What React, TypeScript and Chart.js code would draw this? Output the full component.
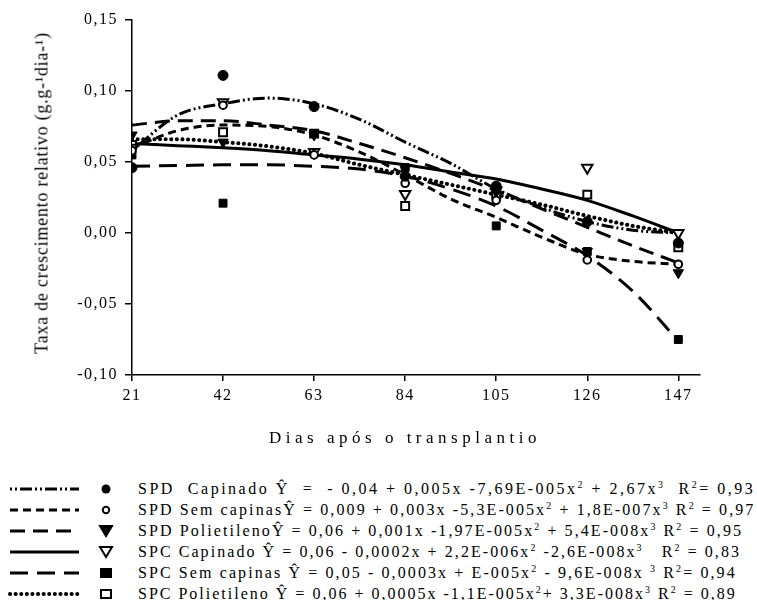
import React, { useEffect, useRef } from "react";
import { Chart, registerables } from "chart.js";
Chart.register(...registerables);

// ---- data ----
const obsDays = [21, 42, 63, 84, 105, 126, 147];
const fitDays = [21, 31.5, 42, 52.5, 63, 73.5, 84, 94.5, 105, 115.5, 126, 136.5, 147];
const xTicks = [21, 42, 63, 84, 105, 126, 147];
const yTicks = [-0.1, -0.05, 0, 0.05, 0.1, 0.15];
const yTickLabels = ["-0,10", "-0,05", "0,00", "0,05", "0,10", "0,15"];

const obsSpdCapinado = [0.046, 0.111, 0.089, 0.04, 0.033, 0.008, -0.007];
const obsSpdSemCapinas = [0.058, 0.09, 0.055, 0.035, 0.023, -0.019, -0.022];
const obsSpdPolietileno = [0.069, 0.064, 0.069, 0.045, 0.029, -0.013, -0.028];
const obsSpcCapinado = [0.06, 0.092, 0.057, 0.0275, 0.03, 0.046, 0.0];
const obsSpcSemCapinas = [0.055, 0.021, 0.07, 0.046, 0.005, -0.013, -0.075];
const obsSpcPolietileno = [0.062, 0.071, 0.07, 0.019, 0.027, 0.027, -0.01];

const fitSpdCapinado = [0.058, 0.083, 0.091, 0.095, 0.091, 0.08, 0.064, 0.049, 0.031, 0.018, 0.008, 0.002, 0.0];
const fitSpdSemCapinas = [0.06, 0.072, 0.076, 0.075, 0.069, 0.057, 0.041, 0.024, 0.011, -0.003, -0.015, -0.02, -0.022];
const fitSpdPolietileno = [0.076, 0.079, 0.079, 0.076, 0.072, 0.063, 0.053, 0.042, 0.03, 0.017, 0.004, -0.009, -0.021];
const fitSpcCapinado = [0.063, 0.0615, 0.06, 0.058, 0.055, 0.052, 0.048, 0.043, 0.038, 0.031, 0.023, 0.012, 0.0];
const fitSpcSemCapinas = [0.047, 0.0475, 0.048, 0.048, 0.047, 0.045, 0.04, 0.031, 0.019, 0.002, -0.016, -0.041, -0.076];
const fitSpcPolietileno = [0.066, 0.066, 0.064, 0.061, 0.056, 0.048, 0.041, 0.034, 0.027, 0.02, 0.012, 0.005, 0.0];

const seriesNames = ["SPD Capinado", "SPD Sem capinas", "SPD Polietileno", "SPC Capinado", "SPC Sem capinas", "SPC Polietileno"];
const legendTexts = [
  "SPD  Capinado Ŷ  =  - 0,04 + 0,005x -7,69E-005x² + 2,67x³  R²= 0,93",
  "SPD Sem capinasŶ = 0,009 + 0,003x -5,3E-005x² + 1,8E-007x³ R² = 0,97",
  "SPD PolietilenoŶ = 0,06 + 0,001x -1,97E-005x² + 5,4E-008x³ R² = 0,95",
  "SPC Capinado Ŷ = 0,06 - 0,0002x + 2,2E-006x² -2,6E-008x³   R² = 0,83",
  "SPC Sem capinas Ŷ = 0,05 - 0,0003x + E-005x² - 9,6E-008x ³ R²= 0,94",
  "SPC Polietileno Ŷ = 0,06 + 0,0005x -1,1E-005x²+ 3,3E-008x³ R² = 0,89",
];

const obsAll = [obsSpdCapinado, obsSpdSemCapinas, obsSpdPolietileno, obsSpcCapinado, obsSpcSemCapinas, obsSpcPolietileno];
const fitAll = [fitSpdCapinado, fitSpdSemCapinas, fitSpdPolietileno, fitSpcCapinado, fitSpcSemCapinas, fitSpcPolietileno];

// styles
const lineDash: number[][] = [[2, 3, 2, 3, 12, 3], [8, 5], [15, 8], [], [18, 9], [0.1, 5.5]];
const lineCap = ["butt", "butt", "butt", "butt", "butt", "round"];
const lineW = [3, 3, 3, 3, 3, 4];
const legendSpacing = [2.5, 2.1, 2.08, 2.06, 2.1, 2.0];
const markers = [
  { style: "circle", r: 5, fill: "#000", rot: 0 },
  { style: "circle", r: 3.8, fill: "#fff", rot: 0 },
  { style: "triangle", r: 6, fill: "#000", rot: 180 },
  { style: "triangle", r: 6, fill: "#fff", rot: 180 },
  { style: "rect", r: 5.6, fill: "#000", rot: 0 },
  { style: "rect", r: 5.6, fill: "#fff", rot: 0 },
];

const FONT = "'Liberation Serif', 'DejaVu Serif', 'Times New Roman', serif";

const spacingPlugin = {
  id: "spacing",
  beforeLayout(chart: any) {
    chart.ctx.letterSpacing = "1.5px";
  },
  beforeDraw(chart: any) {
    chart.ctx.letterSpacing = "1.5px";
  },
};

function LegendText({ text }: { text: string }) {
  const parts: React.ReactNode[] = [];
  let buf = "";
  let k = 0;
  for (const ch of text) {
    if (ch === "²" || ch === "³") {
      if (buf) parts.push(<span key={k++}>{buf}</span>);
      buf = "";
      parts.push(
        <sup key={k++} style={{ fontSize: "10px", verticalAlign: "6px", lineHeight: 0 }}>
          {ch === "²" ? "2" : "3"}
        </sup>
      );
    } else buf += ch;
  }
  if (buf) parts.push(<span key={k++}>{buf}</span>);
  return <>{parts}</>;
}

function LegendIcon({ i }: { i: number }) {
  const dash = lineDash[i].length ? lineDash[i].join(",") : undefined;
  const m = markers[i];
  const cx = 106;
  const cy = 10;
  let marker: React.ReactNode = null;
  if (m.style === "circle") {
    marker = <circle cx={cx} cy={cy} r={m.fill === "#000" ? 4.5 : 3.2} fill={m.fill} stroke="#000" strokeWidth={m.fill === "#000" ? 0 : 2} />;
  } else if (m.style === "triangle") {
    marker = <polygon points={`${cx - 6},${cy - 5} ${cx + 6},${cy - 5} ${cx},${cy + 5}`} fill={m.fill} stroke="#000" strokeWidth={2} strokeLinejoin="miter" />;
  } else {
    marker = <rect x={cx - 5} y={cy - 4} width={10} height={8} fill={m.fill} stroke="#000" strokeWidth={2} />;
  }
  return (
    <svg width={130} height={20} style={{ position: "absolute", left: 0, top: 0 }}>
      <line x1={10} y1={cy} x2={79} y2={cy} stroke="#000" strokeWidth={lineW[i]} strokeDasharray={dash} strokeLinecap={lineCap[i] as any} />
      {marker}
    </svg>
  );
}

export default function App() {
  const ref = useRef<HTMLCanvasElement | null>(null);
  useEffect(() => {
    if (!ref.current) return;
    const markerSets = obsAll.map((vals, i) => ({
      label: seriesNames[i],
      data: obsDays.map((d, j) => ({ x: d, y: vals[j] })),
      showLine: false,
      pointStyle: markers[i].style,
      pointRotation: markers[i].rot,
      pointRadius: markers[i].r,
      pointBackgroundColor: markers[i].fill,
      pointBorderColor: "#000",
      pointBorderWidth: markers[i].fill === "#000" ? 1 : 2,
      order: 0,
    }));
    const lineSets = fitAll.map((vals, i) => ({
      label: seriesNames[i] + " ajuste",
      data: fitDays.map((d, j) => ({ x: d, y: vals[j] })),
      showLine: true,
      pointRadius: 0,
      borderColor: "#000",
      borderWidth: lineW[i],
      borderDash: lineDash[i],
      borderCapStyle: lineCap[i],
      cubicInterpolationMode: "monotone",
      fill: false,
      order: 1,
    }));
    const chart = new Chart(ref.current, {
      type: "scatter",
      data: { datasets: [...markerSets, ...lineSets] as any },
      options: {
        animation: false,
        responsive: false,
        devicePixelRatio: 1,
        layout: { padding: { top: 20, right: 57, bottom: 0, left: 0 } },
        plugins: { legend: { display: false }, tooltip: { enabled: false } },
        scales: {
          x: {
            type: "linear",
            min: 21,
            max: 152,
            afterBuildTicks: (s: any) => {
              s.ticks = xTicks.map((v) => ({ value: v }));
            },
            afterFit: (s: any) => {
              s.height = 85;
            },
            ticks: { color: "#000", font: { family: FONT, size: 16 }, padding: 5, maxRotation: 0, autoSkip: false },
            grid: { drawOnChartArea: false, drawTicks: true, tickLength: 6, color: "#000", lineWidth: 1.5 },
            border: { display: true, color: "#000", width: 1.5 },
          },
          y: {
            type: "linear",
            min: -0.1,
            max: 0.15,
            afterBuildTicks: (s: any) => {
              s.ticks = yTicks.map((v) => ({ value: v }));
            },
            afterFit: (s: any) => {
              s.width = 132;
            },
            ticks: {
              color: "#000",
              font: { family: FONT, size: 16 },
              padding: 7,
              autoSkip: false,
              callback: (_v: any, idx: number) => yTickLabels[idx],
            },
            grid: { drawOnChartArea: false, drawTicks: true, tickLength: 7, color: "#000", lineWidth: 1.5 },
            border: { display: true, color: "#000", width: 1.5 },
          },
        },
      } as any,
      plugins: [spacingPlugin],
    });
    return () => chart.destroy();
  }, []);

  const rowCenters = [489, 510, 531, 552, 573, 594];
  return (
    <div style={{ position: "absolute", left: 0, top: 0, width: 757, height: 600, overflow: "hidden", background: "#fff", fontFamily: FONT }}>
      <canvas ref={ref} width={757} height={460} style={{ position: "absolute", left: 0, top: 0, width: 757, height: 460 }} />
      <div
        style={{
          position: "absolute",
          left: 42,
          top: 193,
          transform: "translate(-50%, -50%) rotate(-90deg)",
          whiteSpace: "nowrap",
          fontFamily: FONT,
          fontSize: 18,
          letterSpacing: "0.75px",
          color: "#000",
        }}
      >
        Taxa de crescimento relativo (g.g-¹dia-¹)
      </div>
      <div
        style={{
          position: "absolute",
          left: 405,
          top: 438,
          transform: "translate(-50%, -50%)",
          whiteSpace: "nowrap",
          fontFamily: FONT,
          fontSize: 17,
          letterSpacing: "4.5px",
          color: "#000",
        }}
      >
        Dias após o transplantio
      </div>
      {legendTexts.map((t, i) => (
        <div key={i} style={{ position: "absolute", left: 0, top: rowCenters[i] - 10, width: 757, height: 20 }}>
          <LegendIcon i={i} />
          <div
            style={{
              position: "absolute",
              left: 138,
              top: 0,
              height: 20,
              lineHeight: "20px",
              whiteSpace: "pre",
              fontFamily: FONT,
              fontSize: 16,
              letterSpacing: `${legendSpacing[i]}px`,
              color: "#000",
            }}
          >
            <LegendText text={t} />
          </div>
        </div>
      ))}
    </div>
  );
}
